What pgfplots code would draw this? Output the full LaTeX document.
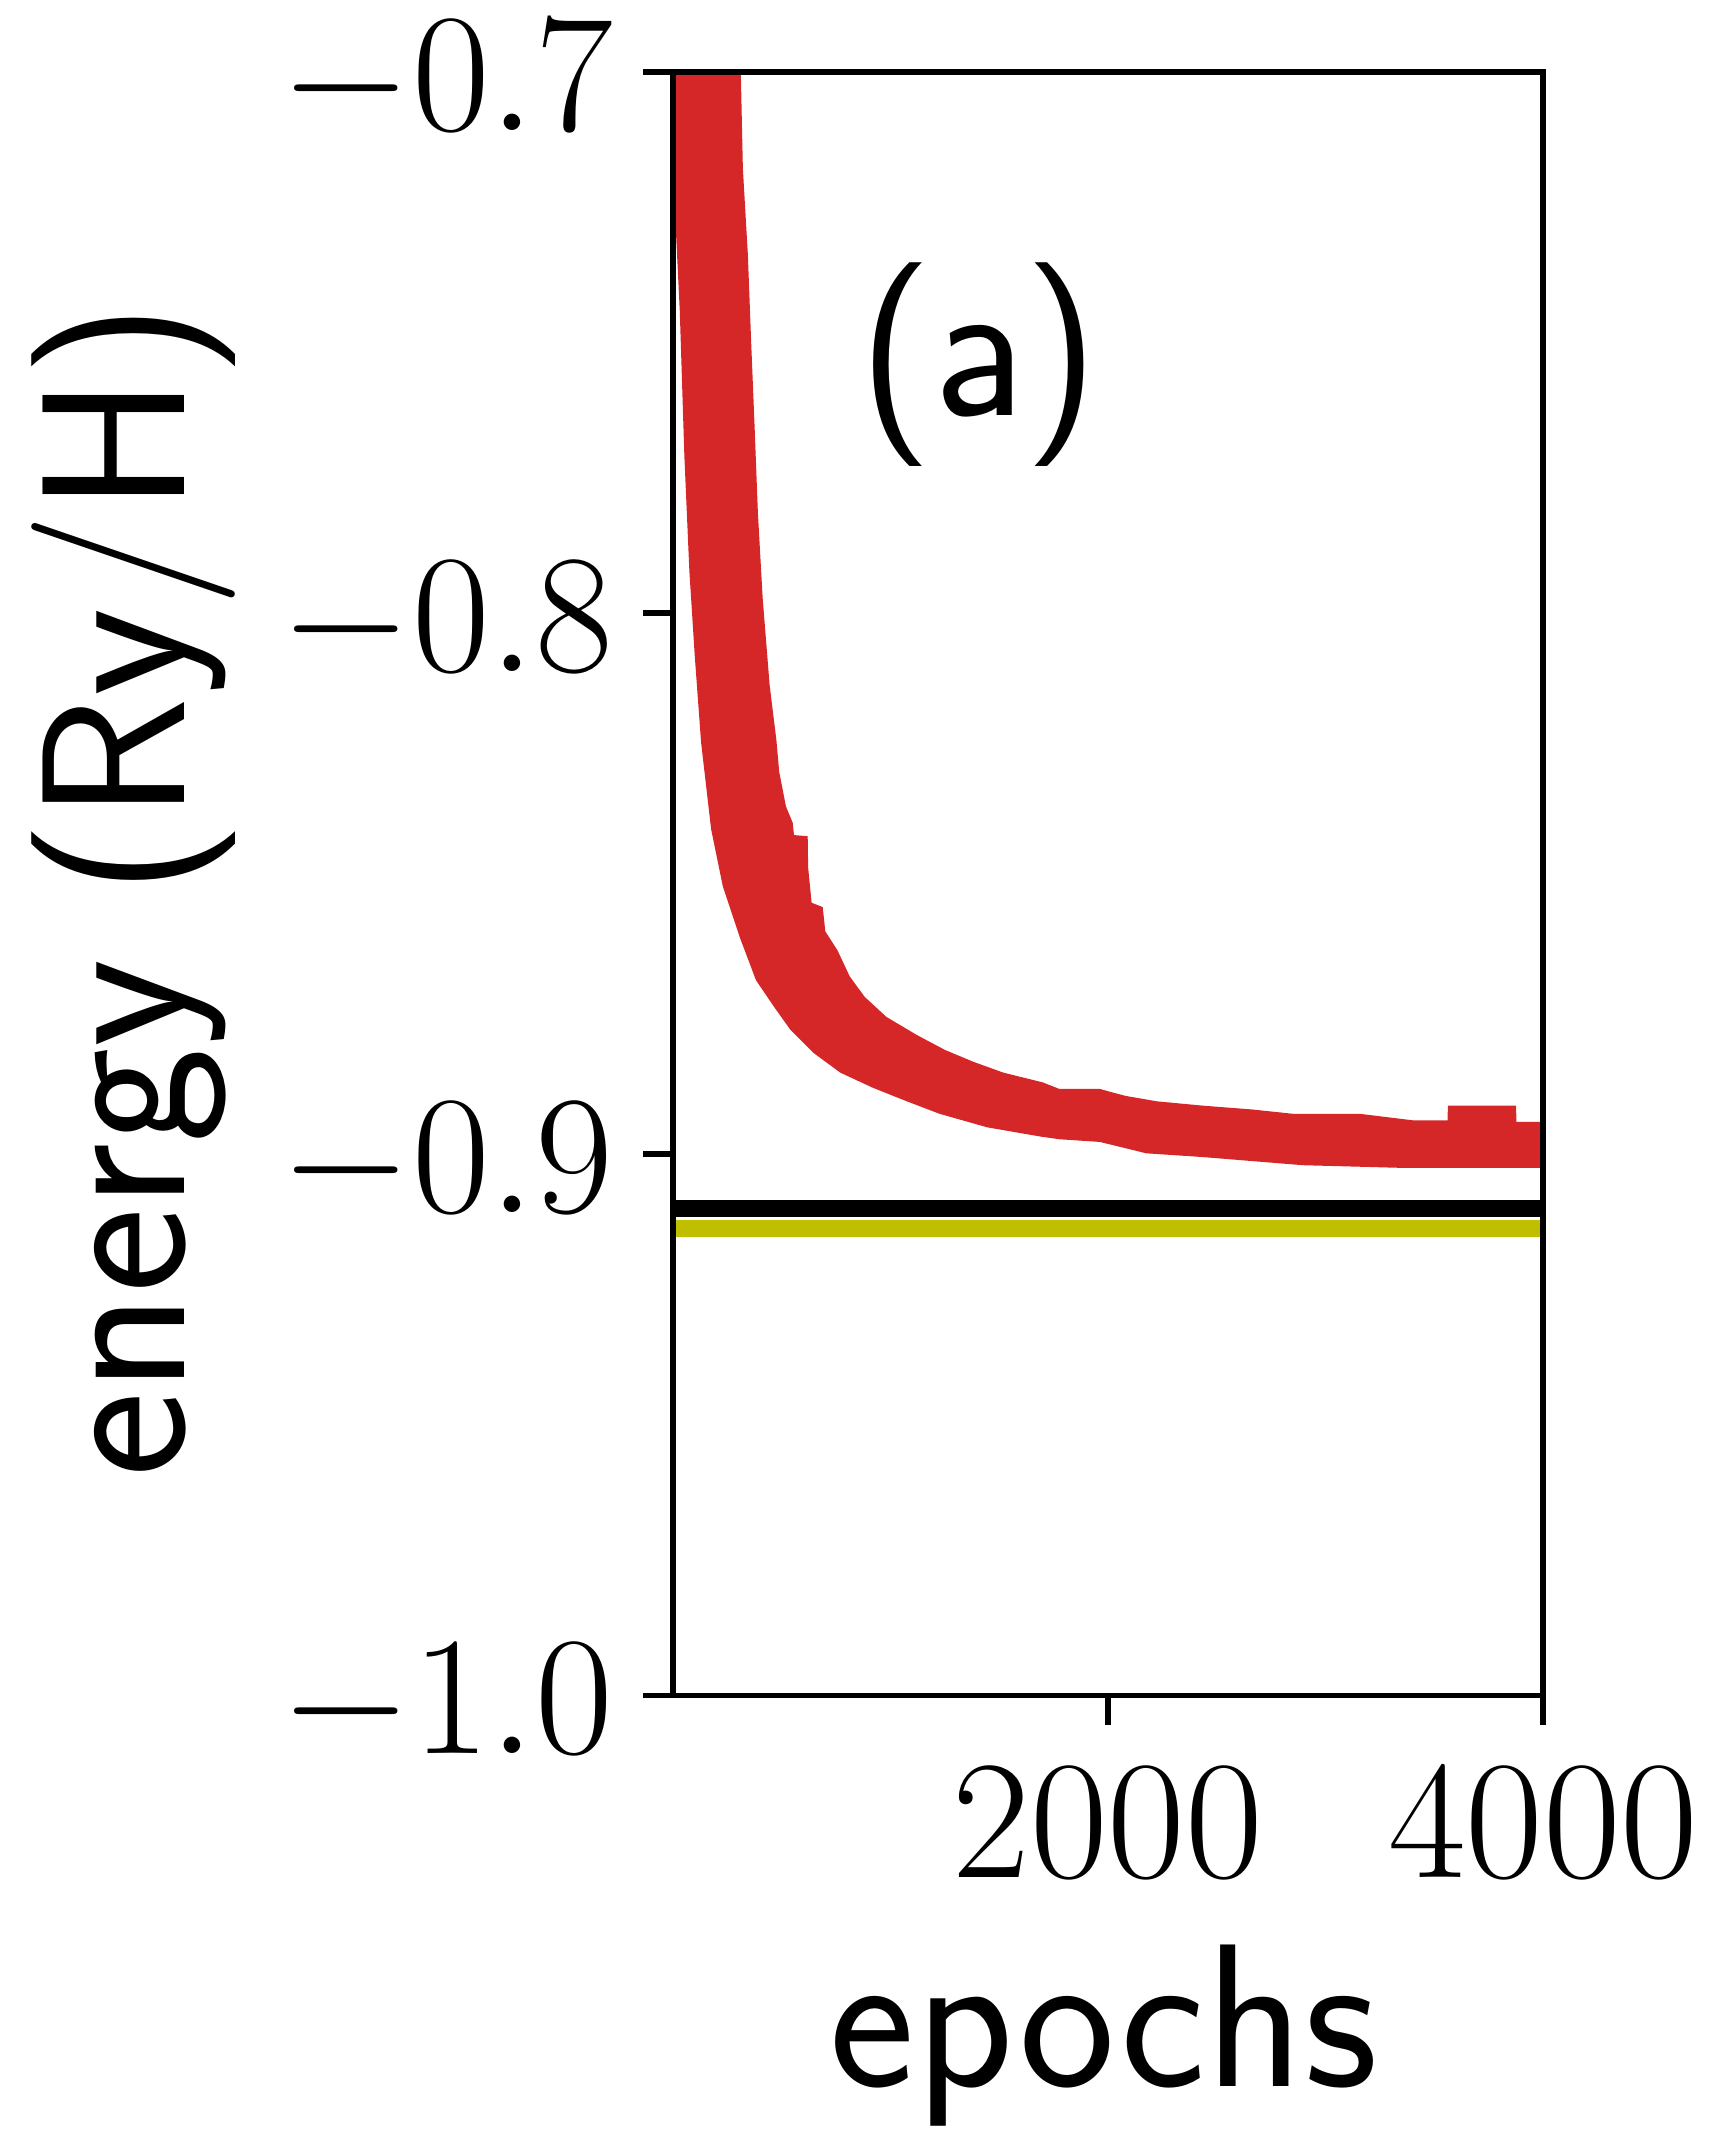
\documentclass[border=0pt]{standalone}
\usepackage{pgfplots}
\pgfplotsset{compat=1.18}
\usepgfplotslibrary{fillbetween}
\definecolor{tabred}{HTML}{D62728}
\definecolor{myolive}{HTML}{BFBF00}

\begin{document}
\begin{tikzpicture}
\begin{axis}[
    scale only axis,
    width=128pt, height=238.8pt,
    xmin=0, xmax=4000,
    ymin=-1.0, ymax=-0.7,
    xtick={2000,4000},
    ytick={-1.0,-0.9,-0.8,-0.7},
    tick pos=left,
    tick align=outside,
    major tick length=4.4pt,
    every tick/.style={black, line width=0.85pt},
    axis line style={line width=0.85pt},
    axis on top,
    tick label style={font=\fontsize{24.88}{29}\selectfont, inner sep=0pt},
    yticklabel style={anchor=east, xshift=-4.2pt, yshift=-1.6pt,
        /pgf/number format/.cd, fixed, fixed zerofill, precision=1},
    xticklabel style={anchor=north, yshift=-6.2pt,
        /pgf/number format/1000 sep={}},
    xlabel={epochs},
    ylabel={energy (Ry/H)},
    xlabel style={font=\sffamily\fontsize{30}{36}\selectfont, inner sep=0pt,
        at={(axis description cs:0.495,-0.2094)}, anchor=center},
    ylabel style={font=\sffamily\fontsize{30}{36}\selectfont, inner sep=0pt,
        at={(axis description cs:-0.620,0.496)}, rotate=0, anchor=center},
]
% upper edge of the training band
\addplot[draw=none, name path=up] table {
0 -0.40
150 -0.58
250 -0.66
312 -0.7009
321 -0.7178
344 -0.7338
359 -0.7498
375 -0.7656
390 -0.7814
412 -0.7972
444 -0.8133
475 -0.8234
488 -0.8293
519 -0.8357
550 -0.8387
556 -0.8410
619 -0.8412
621 -0.8470
637 -0.8535
688 -0.8543
700 -0.8588
756 -0.8623
812 -0.8671
881 -0.8709
981 -0.8746
1119 -0.8779
1250 -0.8807
1381 -0.8829
1519 -0.8849
1700 -0.8867
1775 -0.8879
1962 -0.8879
2006 -0.8884
2081 -0.8892
2225 -0.8902
2437 -0.8910
2662 -0.8917
2850 -0.8925
3156 -0.8925
3400 -0.8937
3560 -0.8937
3562 -0.8910
3875 -0.8910
3877 -0.8940
4000 -0.8940
};
% lower edge
\addplot[draw=none, name path=lo] table {
0 -0.7284
12 -0.7284
31 -0.7442
52 -0.7709
75 -0.7922
100 -0.8080
129 -0.8239
175 -0.8399
229 -0.8505
306 -0.8598
381 -0.8678
462 -0.8726
538 -0.8769
644 -0.8812
769 -0.8849
919 -0.8877
1075 -0.8902
1225 -0.8925
1444 -0.8950
1688 -0.8967
1775 -0.8972
1962 -0.8977
2175 -0.8998
2437 -0.9005
2894 -0.9020
3356 -0.9025
4000 -0.9025
};
\addplot[fill=tabred, draw=none] fill between[of=up and lo];

\addplot[black, line width=2.5pt] coordinates {(0,-0.9100) (4000,-0.9100)};
\addplot[myolive, line width=2.5pt] coordinates {(0,-0.9137) (4000,-0.9137)};

\node[font=\sffamily\fontsize{30}{36}\selectfont, inner sep=0pt, anchor=center]
    at (axis description cs:0.3516,0.8199) {(a)};
\end{axis}
\pgfresetboundingbox
\path[use as bounding box] (-99pt,-64.2pt) rectangle (153.2pt,249.4pt);
\end{tikzpicture}
\end{document}
